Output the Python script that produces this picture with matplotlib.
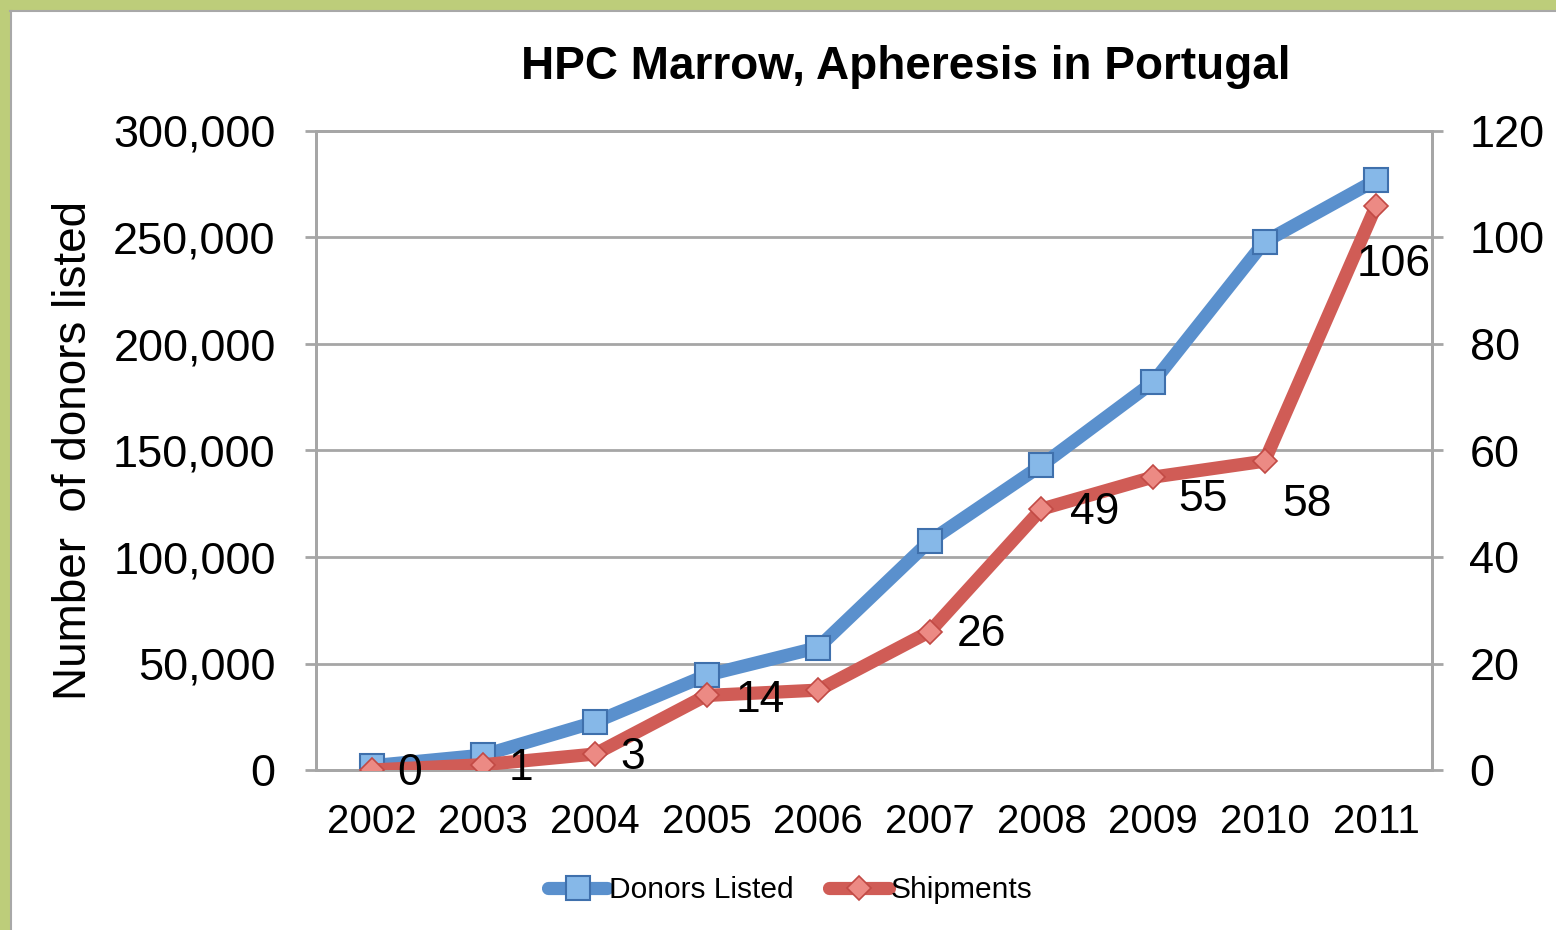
import matplotlib
matplotlib.use("Agg")
import matplotlib.pyplot as plt
from matplotlib.ticker import FuncFormatter, MultipleLocator
from matplotlib.patches import Rectangle

# ---- data ----
years = ["2002", "2003", "2004", "2005", "2006", "2007", "2008", "2009", "2010", "2011"]
donors_listed = [2000, 7000, 22500, 44500, 57500, 107500, 143000, 182000, 248000, 277000]
shipments = [0, 1, 3, 14, 15, 26, 49, 55, 58, 106]
shipment_labels = ["0", "1", "3", "14", None, "26", "49", "55", "58", "106"]
title = "HPC Marrow, Apheresis in Portugal"
ylabel = "Number  of donors listed"
legend_names = ["Donors Listed", "Shipments"]

plt.rcParams['font.family'] = ['Liberation Sans', 'DejaVu Sans']

W, H = 1556, 930
fig = plt.figure(figsize=(W / 100, H / 100), dpi=100)

# green frame of the surrounding slide
green = '#BDCD7A'
fig.patches.append(Rectangle((0, 1 - 10 / H), 1, 10 / H, transform=fig.transFigure,
                             facecolor=green, edgecolor='none', zorder=0))
fig.patches.append(Rectangle((0, 0), 10 / W, 1, transform=fig.transFigure,
                             facecolor=green, edgecolor='none', zorder=0))
fig.add_artist(plt.Line2D([10 / W, 1], [1 - 11 / H, 1 - 11 / H], transform=fig.transFigure,
                          color='#A8A8A8', lw=1.5))
fig.add_artist(plt.Line2D([11 / W, 11 / W], [0, 1 - 11 / H], transform=fig.transFigure,
                          color='#A8A8A8', lw=1.5))

left, right = 316 / W, 1432 / W
bottom, top = 1 - 770 / H, 1 - 131 / H
ax = fig.add_axes([left, bottom, right - left, top - bottom])
ax2 = ax.twinx()

x = list(range(len(years)))
blue = '#5A90CD'
red = '#D05C56'
grid_c = '#A6A6A6'

l1, = ax.plot(x, donors_listed, color=blue, lw=9.5, marker='s', markersize=17,
              markerfacecolor='#86B8E8', markeredgecolor='#3F70AC', markeredgewidth=1.5,
              solid_joinstyle='round', solid_capstyle='round', zorder=3)
l2, = ax2.plot(x, shipments, color=red, lw=9.5, marker='D', markersize=12,
               markerfacecolor='#EC8A84', markeredgecolor='#C24A45', markeredgewidth=1.2,
               solid_joinstyle='round', solid_capstyle='round', zorder=3)

ax.set_xlim(-0.5, len(years) - 0.5)
ax.set_ylim(0, 300000)
ax2.set_ylim(0, 120)
ax.yaxis.set_major_locator(MultipleLocator(50000))
ax2.yaxis.set_major_locator(MultipleLocator(20))
ax.yaxis.set_major_formatter(FuncFormatter(lambda v, p: f"{int(v):,}"))
ax.set_xticks(x)
ax.set_xticklabels(years)

ax.grid(axis='y', color=grid_c, lw=2)
ax.set_axisbelow(True)
for a in (ax, ax2):
    for s in a.spines.values():
        s.set_color(grid_c)
        s.set_linewidth(2)
    a.spines['top'].set_visible(True)

ax.tick_params(axis='y', length=8, width=2, color=grid_c, labelsize=32.5, pad=21)
ax2.tick_params(axis='y', length=8, width=2, color=grid_c, labelsize=32.5, pad=19)
ax.tick_params(axis='x', length=0, labelsize=29, pad=24)

ax.set_ylabel(ylabel, fontsize=33, labelpad=12)

# data labels for shipments (offsets in pixels)
offsets = [(38, -3), (38, -4), (38, -3), (54, -5), (0, 0), (52, -3), (53, -3), (50, -22), (42, -43), (17, -59)]
for xi, yi, lab, off in zip(x, shipments, shipment_labels, offsets):
    if lab is None:
        continue
    ax2.annotate(lab, (xi, yi), xytext=off, textcoords='offset pixels',
                 ha='center', va='center', fontsize=32, zorder=5)

fig.text(906 / W, 1 - 67 / H, title, ha='center', va='center', fontsize=33, fontweight='bold')

fig.legend([l1, l2], legend_names, loc='center', bbox_to_anchor=(790 / W, 1 - 890 / H),
           ncol=2, frameon=False, fontsize=21.5, handlelength=2.0, handletextpad=0.05,
           columnspacing=1.2)

fig.savefig("out.png", dpi=100)
